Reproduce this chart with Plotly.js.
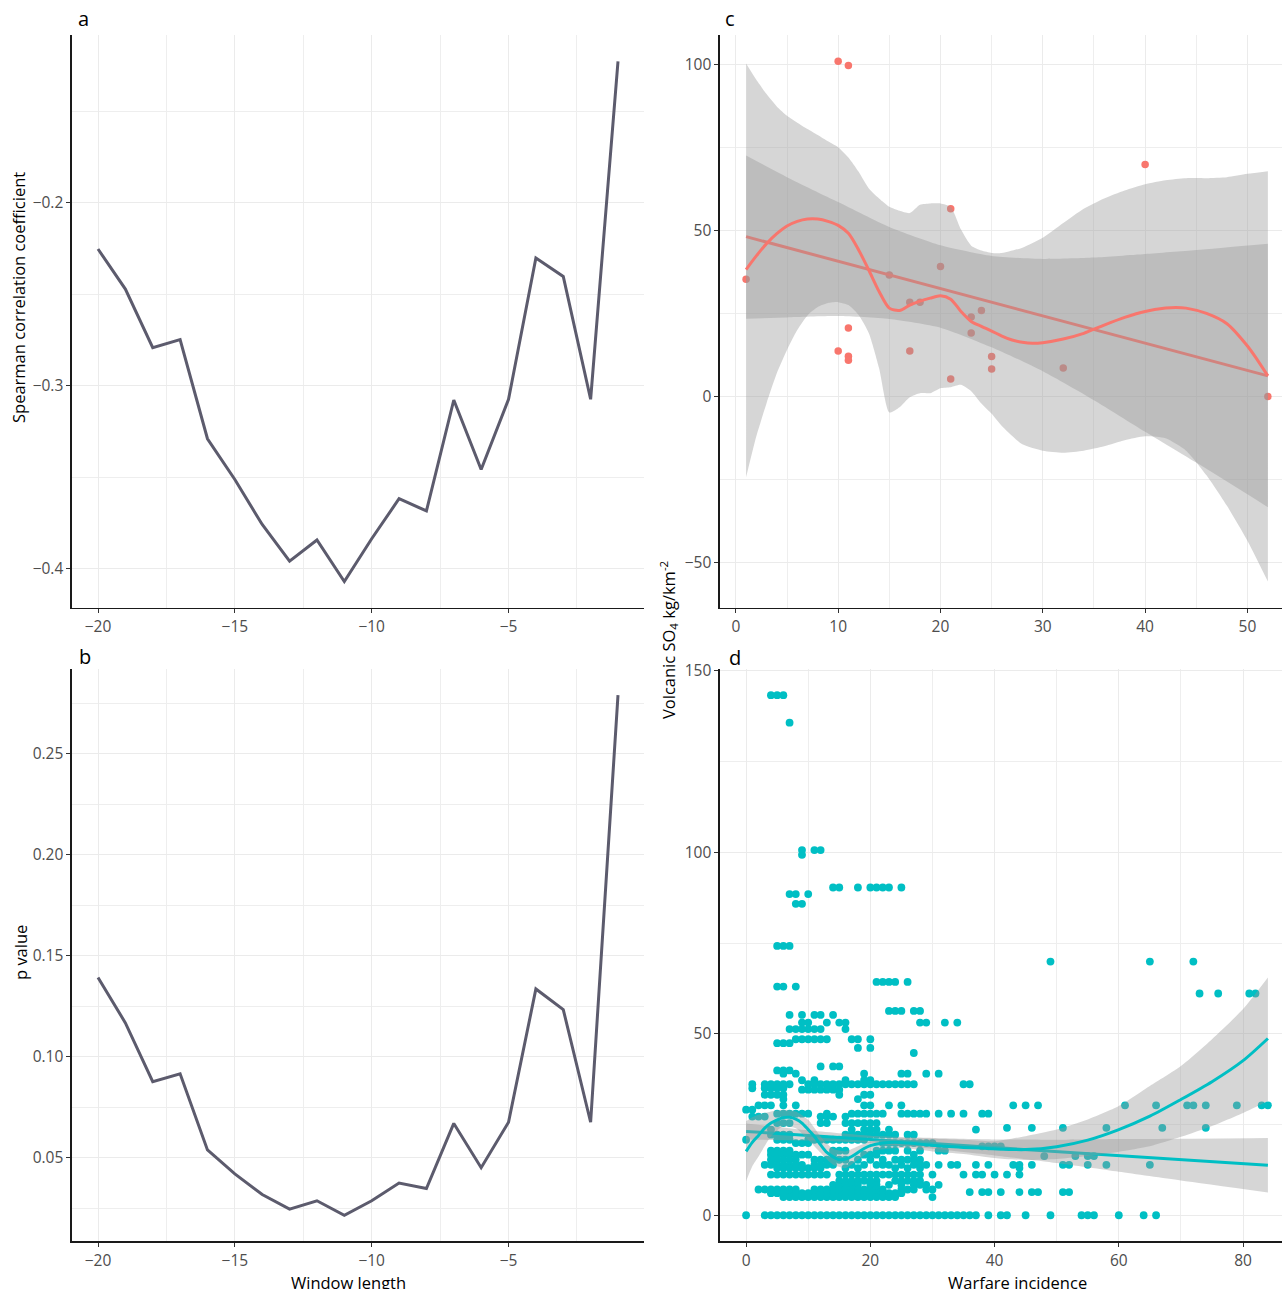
<!DOCTYPE html>
<html>
<head>
<meta charset="utf-8">
<script src="https://cdn.plot.ly/plotly-3.0.1.min.js"></script>
<style>html,body{margin:0;padding:0;background:#fff;}#chart{width:1282px;height:1289px;}</style>
</head>
<body>
<div id="chart"></div>
<script>
// ---------- Panel a / b : window length ----------
const windowLength = [-20,-19,-18,-17,-16,-15,-14,-13,-12,-11,-10,-9,-8,-7,-6,-5,-4,-3,-2,-1];
const spearmanRho = [-0.2252,-0.2471,-0.2792,-0.2748,-0.3290,-0.3513,-0.3759,-0.3960,-0.3844,-0.4071,-0.3837,-0.3618,-0.3685,-0.3078,-0.3458,-0.3074,-0.2301,-0.2402,-0.3074,-0.1225];
const pValue = [0.1393,0.1168,0.0877,0.0916,0.0539,0.0420,0.0318,0.0246,0.0287,0.0215,0.0287,0.0375,0.0348,0.0670,0.0451,0.0676,0.1336,0.1234,0.0676,0.2791];

// ---------- Panel c ----------
const cWar = [1,10,11,40,21,20,15,17,18,24,23,23,11,10,17,11,11,25,25,32,21,52];
const cSO4 = [35.3,100.9,99.6,69.8,56.5,39.1,36.6,28.4,28.4,25.9,23.9,19.1,20.6,13.7,13.7,12.1,10.9,12.0,8.3,8.6,5.3,0];
const cLmX = [1,52];
const cLmY = [48.1,6.2];
const cLmBandX = [1,5,10,15,20,25,30,35,40,45,52];
const cLmBandUp = [72.5,66.0,58.5,51.0,45.5,42.3,41.4,41.8,42.9,44.1,46.0];
const cLmBandLo = [23.4,23.8,24.2,23.3,20.7,14.8,7.6,-1.1,-10.6,-19.9,-33.3];
const cLoX = [1,2,3,4,5,6,7,8,9,10,11,12,13,14,15,16,17,18,19,20,21,22,23,24,25,26,27,28,29,30,32,34,36,38,40,42,43,44,46,48,50,51,52];
const cLoY = [38.2,42.3,46,49,51.3,52.7,53.4,53.4,52.7,51.5,49.1,44.1,38,31.6,26.6,25.9,27.5,28.7,29.6,30.3,29.3,25.6,22.6,21.1,19.7,18.2,17,16.3,16,16.2,17.3,19,21.5,23.8,25.6,26.6,26.8,26.6,25,21.9,15.2,10.9,6.2];
const cLoBandX = [1,2,3,4,5,6,7,8,9,10,11,12,13,14,15,16,17,18,19,20,21,22,23,24,25,26,28,30,32,34,36,38,40,42,44,46,48,50,52];
const cLoBandUp = [100.2,95.3,91,87.3,84.5,82.4,80.5,78.7,76.8,75,71.9,67.6,62.6,59.6,57.1,55.9,55.2,57.7,58.1,58.1,57.1,50.3,45.4,43.9,43.2,43.2,44.8,47.8,52.2,56.5,59.6,62,63.9,65.1,65.7,65.7,66,67,67.8];
const cLoBandLo = [-24.3,-12,-2,7,14,20,24.4,26.9,28.1,28.4,27.5,24.5,19,8.5,-4.8,-3.2,-0.2,1,1,2.5,2.8,3.5,1.6,-2.1,-5.2,-8.9,-14.4,-16.3,-16.9,-16.3,-15,-13.2,-12,-12.6,-16.3,-23.7,-32.9,-43.4,-55.7];

// ---------- Panel d : rows of equal SO4 value ----------
const dRowY = [143.3,135.7,100.6,99.3,90.3,88.5,85.8,74.2,69.9,64.3,63.0,61.1,56.3,55.2,53.1,51.3,48.5,47.4,46.1,44.7,41.0,39.9,39.0,37.2,36.1,35.0,34.6,33.2,32.0,30.3,29.1,28.0,27.2,25.4,24.1,23.6,22.2,20.8,19.9,19.0,17.8,16.7,16.3,15.3,13.9,13.0,11.2,9.5,8.4,7.1,6.4,6.1,5.0,0];
const dRowX = [
  [4,5,6],
  [7],
  [9,11,12],
  [9],
  [14,15,18,20,21,22,23,25],
  [7,8,10],
  [8,9],
  [5,6,7],
  [49,65,72],
  [21,22,23,24,26],
  [5,6,8],
  [73,76,81,82],
  [23,24,25,27,28],
  [7,9,11,12,14],
  [9,10,13,15,16,28,29,32,34],
  [7,8,9,10,11,12,16],
  [8,9,10,11,12,13,17,18,20],
  [5,6,7],
  [18,20],
  [27],
  [12,14,15],
  [5,6,7],
  [6,8,19,25,26,29,31],
  [9,11,16,19,20],
  [1,3,4,5,6,7,10,11,12,13,14,15,16,17,18,19,20,21,22,23,24,25,26,27,35,36],
  [1,3,4,5,6],
  [9,10,11,12,13,14,15],
  [3,4,5,6,15,19,20],
  [6,18],
  [2,3,4,6,8,19,20,23,25,43,45,47,61,66,71,72,74,79,83,84],
  [0,1],
  [5,6,7,8,9,10,13,17,18,19,20,21,22,25,26,27,28,29,31,33,35,38,39],
  [1,2,3,12,13,14,16],
  [5,6,7,12,13,16,17,18,19,20,21],
  [42,46,51,58,67,74],
  [4,17,19,20,21,23,37],
  [4,5,6,7,16,17,18,19,20,21,22,23,24,26,27],
  [0,5,6,7,10,11,12,13,14,15,16,17,18,19],
  [8,9,10,22,23,24,25,26,27,28,29,30],
  [38,39,40,41],
  [4,5,6,7,14,15,16,21,22,23,24,26,28,31,32],
  [4,5,6,7,8,9,10,14,19,20,21,27],
  [48,53,55,56],
  [4,5,6,7,8,11,12,13,14,15,16,18,20,22,24,25,26,27,28],
  [3,4,5,6,7,8,9,11,12,13,14,17,19,21,22,23,25,27,28,29,31,33,34,37,39,43,44,46,51,52,55,58,65],
  [5,6,7,8,9,10,11,12,16,18,24,26,28,44],
  [4,5,6,7,8,9,10,11,12,13,15,16,17,18,19,20,21,22,23,24,25,26,27,28,30,35,37,38,40,42,44],
  [15,16,17,18,19,20,21,24,25,26,27,28],
  [14,15,16,17,18,20,21,23,25,27,28,29,31],
  [2,3,4,5,6,7,8,11,12,13,14,15,16,17,18,19,20,21,22,25,26,27,29,30],
  [36,38,39,41,44,46,47,51,52],
  [4,5,6,7,8,9,10,11,12,13,14,15,16,17,18,19,20,21,22,23,24,25],
  [6,7,8,9,10,11,12,13,14,15,16,17,18,19,20,21,22,23,24,30],
  [0,3,4,5,6,7,8,9,10,11,12,13,14,15,16,17,18,19,20,21,22,23,24,25,26,27,28,29,30,31,32,33,34,35,36,37,39,41,42,45,49,54,55,56,60,64,66]
];
const dLmX = [0,84];
const dLmY = [23.1,13.8];
const dLmBandX = [0,10,20,30,40,50,60,70,84];
const dLmBandUp = [25.3,23.4,21.9,21.3,20.9,20.8,21.0,21.1,21.3];
const dLmBandLo = [20.9,20.6,19.9,18.3,16.5,14.4,12.0,9.6,6.3];
const dLoX = [0,1,2,3,4,5,6,7,8,9,10,11,12,13,14,15,16,17,18,19,20,22,24,26,28,30,32,35,38,40,45,50,55,60,65,70,75,80,84];
const dLoY = [17.6,20.1,22,24,25.4,26.3,26.9,27,26.5,25.4,23.6,21.7,19.4,17.3,16.1,15.3,15.5,16.2,17.3,18.4,19.2,19.9,20.1,19.9,19.6,19.3,19,18.7,18.5,18.3,18.1,18.9,20.7,23.6,27.3,31.9,36.8,42.6,48.7];
const dLoBandX = [0,1,2,4,6,8,10,12,14,16,18,20,25,30,35,40,45,50,55,60,65,70,75,80,84];
const dLoBandUp = [25.9,27,27.7,28.6,29.1,28.6,26.3,21.7,18.3,17.6,19,20.4,21.3,21.1,20.8,20.4,21.8,23.6,26.4,30.1,35.6,41.1,48.5,56.8,65.5];
const dLoBandLo = [9.4,13.5,16.2,21.7,24.5,24,20.8,17.2,13.9,13,15.3,17.6,18.5,17.6,16.9,15.8,15.2,15.5,16.3,17.5,19,21.6,24.6,28.2,31.5];

// ---------- build ----------
const RED = '#F8766D', CYAN = '#00BFC4', LINE = '#5c5b6d';
const BAND = 'rgba(153,153,153,0.4)';
const dX = [], dY = [];
dRowX.forEach((row, i) => row.forEach(x => { dX.push(x); dY.push(dRowY[i]); }));

function band(xs, up, lo, xa, ya) {
  return [
    {x: xs, y: lo, xaxis: xa, yaxis: ya, mode: 'lines', type: 'scatter',
     line: {width: 0, shape: 'spline', smoothing: 0.6}, hoverinfo: 'skip', showlegend: false},
    {x: xs, y: up, xaxis: xa, yaxis: ya, mode: 'lines', type: 'scatter', fill: 'tonexty',
     fillcolor: BAND, line: {width: 0, shape: 'spline', smoothing: 0.6}, hoverinfo: 'skip', showlegend: false}
  ];
}

const traces = [
  {x: windowLength, y: spearmanRho, xaxis: 'x', yaxis: 'y', mode: 'lines', type: 'scatter',
   line: {color: LINE, width: 3}},
  {x: windowLength, y: pValue, xaxis: 'x2', yaxis: 'y2', mode: 'lines', type: 'scatter',
   line: {color: LINE, width: 3}},
  // panel c
  {x: cWar, y: cSO4, xaxis: 'x3', yaxis: 'y3', mode: 'markers', type: 'scatter',
   marker: {color: RED, size: 7.5}},
  ...band(cLmBandX, cLmBandUp, cLmBandLo, 'x3', 'y3'),
  {x: cLmX, y: cLmY, xaxis: 'x3', yaxis: 'y3', mode: 'lines', type: 'scatter', line: {color: RED, width: 3}},
  ...band(cLoBandX, cLoBandUp, cLoBandLo, 'x3', 'y3'),
  {x: cLoX, y: cLoY, xaxis: 'x3', yaxis: 'y3', mode: 'lines', type: 'scatter',
   line: {color: RED, width: 3, shape: 'spline', smoothing: 0.8}},
  // panel d
  {x: dX, y: dY, xaxis: 'x4', yaxis: 'y4', mode: 'markers', type: 'scatter',
   marker: {color: CYAN, size: 7.8}},
  ...band(dLmBandX, dLmBandUp, dLmBandLo, 'x4', 'y4'),
  {x: dLmX, y: dLmY, xaxis: 'x4', yaxis: 'y4', mode: 'lines', type: 'scatter', line: {color: CYAN, width: 3}},
  ...band(dLoBandX, dLoBandUp, dLoBandLo, 'x4', 'y4'),
  {x: dLoX, y: dLoY, xaxis: 'x4', yaxis: 'y4', mode: 'lines', type: 'scatter',
   line: {color: CYAN, width: 3, shape: 'spline', smoothing: 0.8}}
];

const W = 1282, H = 1289;
const FONT = 'Open Sans, Noto Sans, sans-serif';
function ax(domain, range, tick0, dtick, minorDtick, anchor, extra) {
  return Object.assign({
    domain: domain, range: range, anchor: anchor, tick0: tick0, dtick: dtick,
    showline: true, linecolor: '#1a1a1a', linewidth: 1.6, zeroline: false,
    showgrid: true, gridcolor: '#EBEBEB', gridwidth: 1,
    minor: {tick0: tick0, dtick: minorDtick, showgrid: true, gridcolor: '#EEEEEE', gridwidth: 1, ticks: ''},
    ticks: 'outside', ticklen: 4, tickcolor: '#333333', tickwidth: 1,
    tickfont: {family: FONT, size: 15.5, color: '#4D4D4D'}, fixedrange: true
  }, extra || {});
}
const xL = [72 / W, 644 / W], xR = [720 / W, 1];
const yT = [1 - 607.5 / H, 1 - 35.3 / H], yB = [1 - 1241.4 / H, 1 - 669 / H];

const ann = (t, px, py, opts) => Object.assign({
  text: t, x: px / W, y: 1 - py / H, xref: 'paper', yref: 'paper', showarrow: false,
  xanchor: 'center', yanchor: 'middle', font: {family: FONT, size: 16.5, color: '#000'}
}, opts || {});

const layout = {
  width: W, height: H, margin: {l: 0, r: 0, t: 0, b: 0},
  paper_bgcolor: '#fff', plot_bgcolor: '#fff', showlegend: false,
  xaxis: ax(xL, [-20.95, -0.05], -20, 5, 2.5, 'y'),
  yaxis: ax(yT, [-0.4213, -0.1083], -0.4, 0.1, 0.05, 'x', {tickformat: '.1f'}),
  xaxis2: ax(xL, [-20.95, -0.05], -20, 5, 2.5, 'y2'),
  yaxis2: ax(yB, [0.0086, 0.292], 0, 0.05, 0.025, 'x2', {tickformat: '.2f'}),
  xaxis3: ax(xR, [-1.55, 53.38], 0, 10, 5, 'y3'),
  yaxis3: ax(yT, [-63.5, 108.7], 0, 50, 25, 'x3'),
  xaxis4: ax(xR, [-4.2, 86.27], 0, 20, 10, 'y4'),
  yaxis4: ax(yB, [-7.2, 150.5], 0, 50, 25, 'x4'),
  annotations: [
    ann('a', 83, 19, {font: {family: FONT, size: 20, color: '#000'}}),
    ann('b', 85, 656, {font: {family: FONT, size: 20, color: '#000'}}),
    ann('c', 730, 19, {font: {family: FONT, size: 20, color: '#000'}}),
    ann('d', 735, 657, {font: {family: FONT, size: 20, color: '#000'}}),
    ann('Spearman correlation coefficient', 18, 298, {textangle: -90}),
    ann('p value', 20, 953, {textangle: -90}),
    ann('Window length', 348, 1282),
    ann('Warfare incidence', 1017, 1282),
    ann('Volcanic SO<sub>4</sub> kg/km<sup>-2</sup>', 668, 640, {textangle: -90})
  ]
};

Plotly.newPlot('chart', traces, layout, {displayModeBar: false, staticPlot: true});
</script>
</body>
</html>
